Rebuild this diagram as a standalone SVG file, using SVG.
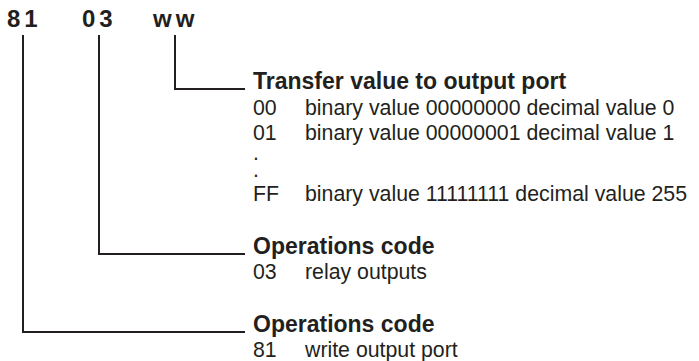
<svg xmlns="http://www.w3.org/2000/svg" width="699" height="361" viewBox="0 0 699 361">
<style>
text{font-family:"Liberation Sans",Arial,sans-serif;fill:#231f20}
.code{font-size:24px;font-weight:bold;letter-spacing:4px}
.h{font-size:23px;font-weight:bold}
.b{font-size:21.3px}
.ln{stroke:#231f20;stroke-width:2;fill:none}
</style>
<rect width="699" height="361" fill="#fff"/>
<g id="codes">
<text class="code" x="7" y="27">81</text>
<text class="code" x="82" y="27">03</text>
<text class="code" x="153" y="27">ww</text>
</g>
<g id="connectors">
<path class="ln" d="M175,35 V89 H245"/>
<path class="ln" d="M99,35 V254 H245"/>
<path class="ln" d="M23,35 V332 H245"/>
</g>
<g id="node-transfer">
<text class="h" x="253" y="89">Transfer value to output port</text>
<text class="b" x="253" y="115">00</text><text class="b" x="305" y="115">binary value 00000000 decimal value 0</text>
<text class="b" x="253" y="140">01<tspan x="253" y="160">.</tspan><tspan x="253" y="177">.</tspan></text>
<text class="b" x="305" y="140">binary value 00000001 decimal value 1</text>
<text class="b" x="253" y="201">FF</text><text class="b" x="305" y="201">binary value 11111111 decimal value 255</text>
</g>
<g id="node-op03">
<text class="h" x="253" y="254">Operations code</text>
<text class="b" x="253" y="279">03</text><text class="b" x="305" y="279">relay outputs</text>
</g>
<g id="node-op81">
<text class="h" x="253" y="332">Operations code</text>
<text class="b" x="253" y="357">81</text><text class="b" x="305" y="357">write output port</text>
</g>
</svg>
